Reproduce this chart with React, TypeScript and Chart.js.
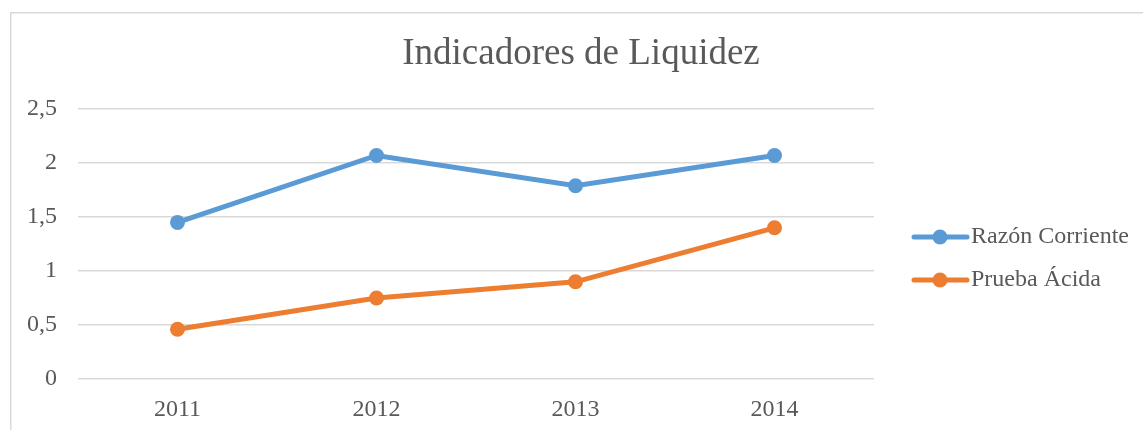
import React, { useEffect, useRef } from "react";
import { Chart, registerables } from "chart.js";

Chart.register(...registerables);

const chartTitle = "Indicadores de Liquidez";
const categories = ["2011", "2012", "2013", "2014"];
const seriesNames = ["Razón Corriente", "Prueba Ácida"];
const razonCorriente = [1.45, 2.07, 1.79, 2.07];
const pruebaAcida = [0.46, 0.75, 0.9, 1.4];
const seriesColors = ["#5B9BD5", "#ED7D31"];

const FONT = "'Liberation Serif', 'Times New Roman', serif";
const TEXT = "#595959";
const GRID = "#D9D9D9";

const framePlugin = {
  id: "frame",
  beforeDraw(chart: any) {
    const ctx = chart.ctx;
    ctx.save();
    ctx.fillStyle = "#ffffff";
    ctx.fillRect(0, 0, chart.width, chart.height);
    ctx.strokeStyle = GRID;
    ctx.lineWidth = 1.5;
    ctx.beginPath();
    ctx.moveTo(10.75, chart.height);
    ctx.lineTo(10.75, 12.75);
    ctx.lineTo(chart.width, 12.75);
    ctx.stroke();
    ctx.restore();
  },
  afterDraw(chart: any) {
    const ctx = chart.ctx;
    ctx.save();
    // title
    ctx.fillStyle = TEXT;
    ctx.font = `37px ${FONT}`;
    ctx.textAlign = "center";
    ctx.textBaseline = "alphabetic";
    ctx.fillText(chartTitle, 581, 64);
    // legend
    const rows = [237, 280];
    chart.data.datasets.forEach((ds: any, i: number) => {
      const y = rows[i];
      ctx.strokeStyle = ds.borderColor;
      ctx.lineWidth = 5;
      ctx.lineCap = "round";
      ctx.beginPath();
      ctx.moveTo(914, y);
      ctx.lineTo(967, y);
      ctx.stroke();
      ctx.fillStyle = ds.borderColor;
      ctx.beginPath();
      ctx.arc(940, y, 7.5, 0, Math.PI * 2);
      ctx.fill();
      ctx.fillStyle = TEXT;
      ctx.font = `24px ${FONT}`;
      ctx.textAlign = "left";
      ctx.textBaseline = "middle";
      ctx.fillText(ds.label, 971, y);
    });
    ctx.restore();
  },
};

export default function App() {
  const ref = useRef<HTMLCanvasElement>(null);
  useEffect(() => {
    document.body.style.margin = "0";
    const chart = new Chart(ref.current!, {
      type: "line",
      data: {
        labels: categories,
        datasets: [
          {
            label: seriesNames[0],
            data: razonCorriente,
            borderColor: seriesColors[0],
            backgroundColor: seriesColors[0],
            pointBackgroundColor: seriesColors[0],
            borderWidth: 5,
            pointRadius: 7.5,
            pointBorderWidth: 0,
            tension: 0,
          },
          {
            label: seriesNames[1],
            data: pruebaAcida,
            borderColor: seriesColors[1],
            backgroundColor: seriesColors[1],
            pointBackgroundColor: seriesColors[1],
            borderWidth: 5,
            pointRadius: 7.5,
            pointBorderWidth: 0,
            tension: 0,
          },
        ],
      },
      options: {
        responsive: false,
        animation: false,
        devicePixelRatio: 1,
        layout: { padding: { top: 109, right: 269, bottom: 0, left: 0 } },
        plugins: {
          legend: { display: false },
          title: { display: false },
          tooltip: { enabled: false },
        },
        scales: {
          x: {
            offset: true,
            grid: { display: false },
            border: { display: false },
            ticks: { color: TEXT, font: { family: FONT, size: 24 }, padding: 8 },
            afterFit: (s: any) => {
              s.height = 51;
            },
          },
          y: {
            min: 0,
            max: 2.5,
            grid: { color: GRID, lineWidth: 1.5, drawTicks: false },
            border: { display: false },
            ticks: {
              stepSize: 0.5,
              color: TEXT,
              font: { family: FONT, size: 24 },
              padding: 21,
              callback: (v: any) => String(v).replace(".", ","),
            },
            afterFit: (s: any) => {
              s.width = 78;
            },
          },
        },
      },
      plugins: [framePlugin],
    });
    return () => chart.destroy();
  }, []);
  return <canvas ref={ref} width={1143} height={430} style={{ display: "block" }} />;
}
